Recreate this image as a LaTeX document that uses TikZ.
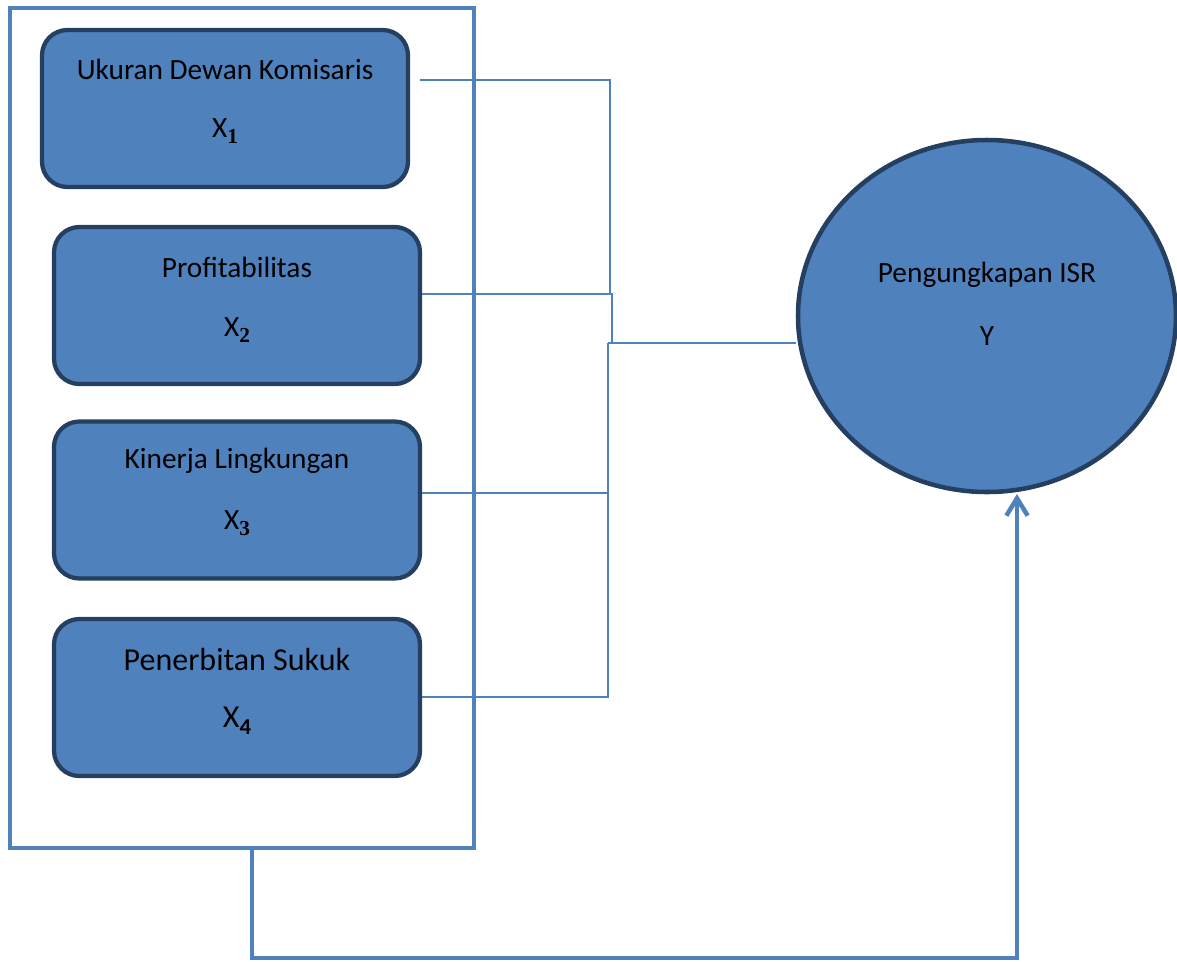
\documentclass[tikz,border=0pt]{standalone}
\usepackage{fontspec}
\setmainfont{Carlito}
\newfontfamily\subserif{Liberation Serif}
\usetikzlibrary{arrows.meta,shapes.geometric}
\definecolor{fillblue}{HTML}{4F81BD}
\definecolor{edgeblue}{HTML}{243F60}
\definecolor{lineblue}{HTML}{4F81BD}
\newcommand{\subs}[1]{\raisebox{-0.22em}{\fontsize{16}{16}\selectfont\bfseries\subserif #1}}
\newcommand{\subsans}[1]{\raisebox{-0.22em}{\fontsize{17}{17}\selectfont\bfseries #1}}
\tikzset{
  varbox/.style={draw=edgeblue, line width=3.2pt, fill=fillblue, rounded corners=19pt,
     minimum width=274.5pt, minimum height=117.75pt, inner sep=0pt},
  lbl/.style={inner sep=0pt, font=\fontsize{22}{26}\selectfont},
  biglbl/.style={inner sep=0pt, font=\fontsize{24}{28}\selectfont},
  thin/.style={draw=lineblue, line width=1.5pt},
  thick/.style={draw=lineblue, line width=3.4pt},
}
\begin{document}
\begin{tikzpicture}[x=0.75pt,y=-0.75pt]
\useasboundingbox (0,0) rectangle (1177,961);
% outer frame
\node[thick, minimum width=348pt, minimum height=630pt, inner sep=0pt] (frame) at (242,428) {};
% variable boxes
\node[varbox] (b1) at (225,108.5) {};
\node[varbox] (b2) at (237,305.5) {};
\node[varbox] (b3) at (237,500) {};
\node[varbox] (b4) at (237,697.5) {};
\node[lbl] (t1) at (225,69) {Ukuran Dewan Komisaris};
\node[lbl] (x1) at (225,131) {X\subs{1}};
\node[lbl] (t2) at (237,267) {Profitabilitas};
\node[lbl] (x2) at (237,330) {X\subs{2}};
\node[lbl] (t3) at (237,461) {Kinerja Lingkungan};
\node[lbl] (x3) at (237,523) {X\subs{3}};
\node[biglbl] (t4) at (237,659) {Penerbitan Sukuk};
\node[biglbl] (x4) at (237,721) {X\subsans{4}};
% dependent variable
\node[ellipse, draw=edgeblue, line width=3.4pt, fill=fillblue, minimum width=283.5pt, minimum height=264pt, inner sep=0pt] (ell) at (987,316) {};
\node[lbl] (ty) at (987,275) {Pengungkapan ISR};
\node[lbl] (yy) at (987,336) {Y};
% connectors
\coordinate (s1) at (420,80);
\coordinate (ja) at (610,294);
\coordinate (jb) at (612,343);
\coordinate (jc) at (608,343);
\draw[thin] (s1) -| (ja);
\draw[thin] (b2.east |- ja) -- (jb |- ja) -- (jb);
\draw[thin] (jc) -- (jc -| ell.west);
\draw[thin] (b3.east |- 0,493) -- (jc |- 0,493);
\draw[thin] (b4.east |- 0,697) -- (jc |- 0,697) -- (jc);
% frame to Y
\coordinate (f0) at (252,848);
\coordinate (f1) at (252,958);
\coordinate (f2) at (1017,958);
\coordinate (f3) at (1017,494);
\draw[thick, -{Straight Barb[length=13pt,width=16pt]}] (f0) -- (f1) -- (f2) -- (f3);
\end{tikzpicture}
\end{document}
